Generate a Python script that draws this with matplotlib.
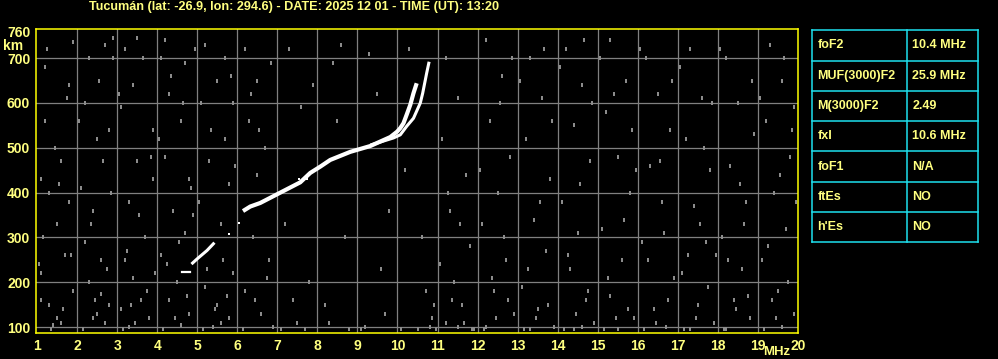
import matplotlib
matplotlib.use("Agg")
import matplotlib.pyplot as plt

# ionogram trace (frequency MHz, virtual height km)
trace_o_f = [6.14, 6.32, 6.57, 7.07, 7.57, 7.82, 8.07, 8.32, 8.82, 9.32, 9.82, 9.99, 10.07, 10.15, 10.23, 10.32, 10.40, 10.48]
trace_o_h = [359, 369, 377, 400, 423, 444, 458, 473, 491, 504, 524, 536, 544, 555, 574, 596, 622, 644]
trace_x_f = [9.32, 9.90, 10.07, 10.23, 10.40, 10.57, 10.63, 10.73, 10.79]
trace_x_h = [506, 522, 529, 548, 566, 600, 622, 667, 692]
low_f = [4.88, 4.99, 5.24, 5.40]
low_h = [243, 252, 271, 286]
flat_f = [4.62, 4.82]
flat_h = [222, 222]
dots_f = [5.79, 6.04, 7.55, 7.65, 7.75]
dots_h = [307, 333, 430, 430, 430]

# gray background noise, estimated positions
noise_f = [1.2, 1.1, 1.3, 1.05, 1.1, 1.3, 1.5, 1.2, 1.6, 1.8, 1.5, 1.7, 1.9, 1.4, 1.8, 1.9,
           2.3, 2.2, 2.5, 2.1, 2.4, 2.6, 2.3, 2.8, 2.5, 2.7, 2.9, 2.9, 2.8, 2.2, 2.6,
           3.2, 3.4, 3.1, 3.5, 3.3, 3.7, 3.2, 3.4, 3.6, 3.1, 3.8, 3.3, 3.9, 3.5, 3.9,
           4.1, 4.3, 4.6, 4.2, 4.8, 4.4, 4.7, 4.1, 4.5, 4.3, 4.8, 4.6, 4.2, 4.7, 4.9,
           5.2, 5.5, 5.1, 5.7, 5.3, 5.8, 5.6, 5.2, 5.5, 5.8, 5.4, 5.9, 5.7, 5.9,
           6.2, 6.5, 6.3, 6.7, 6.4, 6.8, 6.2, 6.6, 6.9, 6.5,
           7.3, 7.6, 7.2, 7.8, 7.5, 7.1, 7.9, 8.4, 8.7, 8.2, 8.8, 8.5,
           9.3, 9.6, 9.2, 9.8, 9.5, 10.3, 10.6, 10.9, 10.8, 10.5, 10.2,
           11.2, 11.5, 11.1, 11.7, 11.3, 11.8, 11.4, 11.6, 11.2, 11.9, 11.5,
           12.2, 12.6, 12.3, 12.8, 12.5, 12.1, 12.7, 12.4, 12.9, 12.2,
           13.3, 13.6, 13.2, 13.8, 13.4, 13.7, 13.1, 13.5, 13.9, 13.3,
           14.2, 14.6, 14.4, 14.8, 14.1, 14.5, 14.3, 14.7, 14.9, 14.4, 14.6,
           15.3, 15.7, 15.2, 15.5, 15.8, 15.1, 15.6, 15.3, 15.9, 15.5,
           16.2, 16.5, 16.8, 16.3, 16.6, 16.1, 16.9, 16.4, 16.7,
           17.3, 17.6, 17.2, 17.8, 17.4, 17.7, 17.1, 17.5, 17.9, 17.3,
           18.2, 18.5, 18.9, 18.3, 18.7, 18.1, 18.6, 18.4, 18.8, 18.2,
           19.3, 19.6, 19.2, 19.8, 19.4, 19.7, 19.1, 19.5, 19.9, 19.6, 19.9]
noise_h = [560, 430, 400, 240, 220, 150, 120, 680, 470, 380, 330, 260, 180, 105, 640, 735,
           700, 600, 520, 410, 360, 250, 200, 150, 130, 110, 700, 745, 540, 290, 175,
           720, 640, 590, 470, 380, 300, 250, 210, 160, 140, 120, 100, 540, 745, 430,
           700, 620, 560, 480, 430, 360, 310, 260, 200, 160, 130, 105, 740, 690, 350,
           730, 650, 600, 520, 470, 420, 330, 190, 150, 120, 100, 220, 700, 600,
           720, 650, 560, 500, 300, 250, 180, 130, 100, 440,
           720, 590, 330, 200, 110, 95, 640, 690, 300, 150, 95, 560,
           710, 230, 100, 360, 620, 720, 300, 150, 100, 95, 450,
           700, 610, 520, 440, 360, 280, 200, 150, 110, 95, 100,
           740, 660, 560, 480, 400, 330, 250, 180, 130, 100,
           700, 610, 520, 430, 340, 270, 190, 140, 100, 95,
           720, 640, 550, 470, 380, 310, 230, 160, 110, 95, 100,
           740, 650, 580, 480, 400, 320, 250, 170, 120, 95,
           700, 620, 540, 460, 380, 290, 210, 140, 100,
           720, 610, 520, 450, 370, 290, 220, 150, 110, 95,
           700, 600, 530, 460, 380, 300, 230, 160, 120, 95,
           730, 650, 560, 480, 400, 320, 250, 180, 130, 100, 590]
noise2_f = [1.35, 1.65, 1.15, 1.45, 1.75, 1.25, 1.55, 1.85, 1.1, 1.6,
            2.15, 2.45, 2.75, 2.35, 2.65, 2.05, 2.55, 2.85, 2.4, 2.7,
            3.15, 3.45, 3.75, 3.25, 3.55, 3.85, 3.05, 3.65, 3.35, 3.95,
            4.15, 4.45, 4.75, 4.25, 4.55, 4.85, 4.05, 4.65, 4.35, 4.95,
            5.15, 5.45, 5.75, 5.25, 5.65, 5.05, 5.35, 5.85, 5.6, 5.95,
            6.15, 6.45, 6.75, 6.35, 6.85, 6.55, 7.4, 7.7, 8.3, 8.6,
            9.1, 9.7, 10.1, 10.7, 10.85, 10.95, 11.05, 11.35, 11.65, 11.85,
            11.25, 11.55, 12.15, 12.45, 12.75, 12.35, 12.65, 12.05, 12.55, 12.85,
            13.15, 13.45, 13.75, 13.25, 13.55, 13.85, 13.05, 13.65, 14.15, 14.45,
            14.75, 14.25, 14.55, 14.85, 14.05, 14.65, 15.15, 15.45, 15.75, 15.25,
            15.65, 15.85, 15.05, 15.4, 16.15, 16.45, 16.75, 16.25, 16.55, 16.85,
            16.05, 16.65, 17.15, 17.45, 17.75, 17.25, 17.55, 17.85, 17.05, 17.65,
            18.15, 18.45, 18.75, 18.25, 18.55, 18.85, 18.05, 18.65, 19.15, 19.45,
            19.75, 19.25, 19.55, 19.85, 19.05, 19.65, 19.95, 19.35, 15.95, 17.95]
noise2_h = [95, 140, 300, 500, 610, 720, 420, 260, 160, 110,
            95, 160, 230, 330, 470, 560, 650, 400, 120, 730,
            95, 110, 180, 270, 350, 480, 620, 700, 150, 220,
            95, 120, 170, 240, 290, 410, 520, 600, 660, 720,
            95, 140, 170, 230, 250, 380, 540, 660, 110, 460,
            95, 160, 210, 620, 690, 540, 160, 95, 110, 730,
            95, 130, 95, 180, 120, 95, 240, 160, 110, 95,
            400, 330, 95, 120, 160, 210, 300, 450, 600, 700,
            95, 120, 150, 230, 380, 560, 650, 720, 95, 130,
            180, 260, 420, 600, 680, 740, 95, 120, 140, 210,
            340, 540, 700, 620, 95, 110, 160, 250, 470, 650,
            720, 310, 95, 120, 190, 260, 330, 600, 680, 500,
            95, 140, 170, 250, 420, 650, 720, 330, 95, 120,
            200, 280, 440, 540, 610, 700, 380, 160, 450, 260]

x_ticks = list(range(1, 21))
y_grid = [100, 200, 300, 400, 500, 600, 700]
y_ticks = y_grid + [760]

param_names = ["foF2", "MUF(3000)F2", "M(3000)F2", "fxI", "foF1", "ftEs", "h'Es"]
param_values = ["10.4 MHz", "25.9 MHz", "2.49", "10.6 MHz", "N/A", "NO", "NO"]

title = "Tucumán (lat: -26.9, lon: 294.6) - DATE: 2025 12 01 - TIME (UT): 13:20"

plt.rcParams["font.family"] = ["Liberation Sans", "DejaVu Sans"]
txt = "#ffff80"
W, H = 998, 359

fig = plt.figure(figsize=(W / 100, H / 100), dpi=100, facecolor="black")
ax = fig.add_axes([35.7 / W, (H - 333) / H, 762 / W, 304 / H], facecolor="black")
ax.set_xlim(0.96, 20.0)
ax.set_ylim(87, 765)

for f in x_ticks[1:-1]:
    ax.axvline(f, color="#808080", lw=0.9, zorder=1)
for h in y_grid:
    ax.axhline(h, color="#808080", lw=0.9, zorder=1)

# small vertical dash, like the sounder's noise pixels
bar = [(-0.5, -1), (0.5, -1), (0.5, 1), (-0.5, 1)]
ax.plot(noise_f, noise_h, ls="", marker=bar, ms=3.0, mew=0, color="#8c8c8c", zorder=2)
ax.plot(noise2_f, noise2_h, ls="", marker=bar, ms=3.0, mew=0, color="#8c8c8c", zorder=2)

ax.plot(trace_o_f, trace_o_h, color="white", lw=3.0, solid_capstyle="butt", zorder=3)
ax.plot(trace_x_f, trace_x_h, color="white", lw=2.2, solid_capstyle="butt", zorder=3)
ax.plot(low_f, low_h, color="white", lw=2.2, zorder=3)
ax.plot(flat_f, flat_h, color="white", lw=1.6, zorder=3)
ax.plot(dots_f, dots_h, ls="", marker="s", ms=2.0, mew=0, color="white", zorder=3)

for s in ax.spines.values():
    s.set_color("#ffff00")
    s.set_linewidth(1.1)

ax.set_xticks(x_ticks)
ax.set_yticks(y_ticks)
ax.tick_params(length=0, colors=txt, labelsize=10, pad=4)
for lab in ax.get_xticklabels() + ax.get_yticklabels():
    lab.set_fontweight("bold")
    lab.set_color(txt)

fig.text(13 / W, 1 - 46 / H, "km", color=txt, fontsize=10, fontweight="bold", ha="center", va="center")
fig.text(777 / W, 1 - 352 / H, "MHz", color=txt, fontsize=9.5, fontweight="bold", ha="center", va="center")
fig.text(294.5 / W, 1 - 7 / H, title, color=txt, fontsize=9.1, fontweight="bold", ha="center", va="center")

# parameter table on the right
tab = fig.add_axes([812.3 / W, (H - 242.3) / H, 165.4 / W, 212 / H], facecolor="black")
tab.set_xlim(0, 165.4)
tab.set_ylim(212, 0)
tab.axis("off")
cyan = "#1ee0ee"
row_h = 212 / len(param_names)
for i in range(len(param_names) + 1):
    tab.plot([0, 165.4], [i * row_h, i * row_h], color=cyan, lw=1.1, clip_on=False)
for xv in [0, 95, 165.4]:
    tab.plot([xv, xv], [0, 212], color=cyan, lw=1.1, clip_on=False)
for i, (name, val) in enumerate(zip(param_names, param_values)):
    yc = (i + 0.5) * row_h
    tab.text(5, yc, name, color=txt, fontsize=9, fontweight="bold", va="center", ha="left")
    tab.text(100, yc, val, color=txt, fontsize=9, fontweight="bold", va="center", ha="left")

fig.savefig("out.png", dpi=100, facecolor="black")
